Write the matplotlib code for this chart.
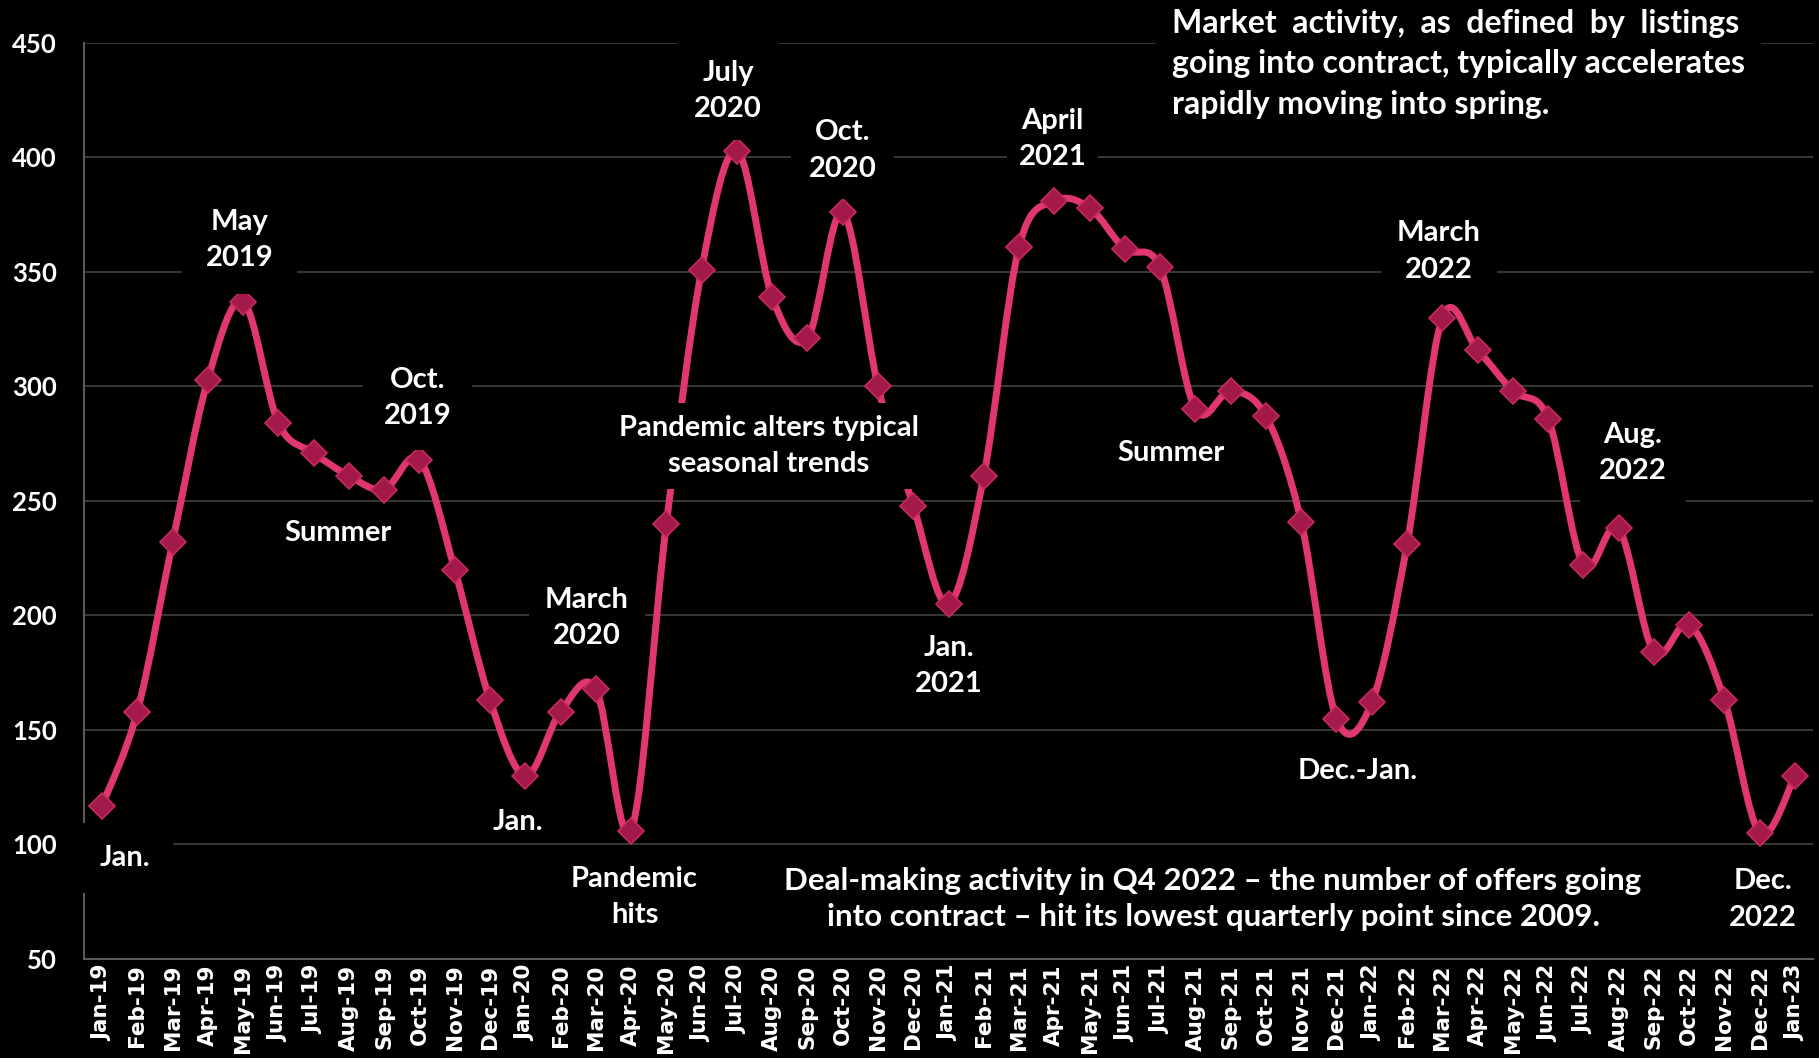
import matplotlib

matplotlib.use("Agg")
import matplotlib.pyplot as plt
import numpy as np
from matplotlib import font_manager
from matplotlib.path import Path
from matplotlib.patches import PathPatch

months = [
    "Jan-19", "Feb-19", "Mar-19", "Apr-19", "May-19", "Jun-19", "Jul-19", "Aug-19",
    "Sep-19", "Oct-19", "Nov-19", "Dec-19", "Jan-20", "Feb-20", "Mar-20", "Apr-20",
    "May-20", "Jun-20", "Jul-20", "Aug-20", "Sep-20", "Oct-20", "Nov-20", "Dec-20",
    "Jan-21", "Feb-21", "Mar-21", "Apr-21", "May-21", "Jun-21", "Jul-21", "Aug-21",
    "Sep-21", "Oct-21", "Nov-21", "Dec-21", "Jan-22", "Feb-22", "Mar-22", "Apr-22",
    "May-22", "Jun-22", "Jul-22", "Aug-22", "Sep-22", "Oct-22", "Nov-22", "Dec-22",
    "Jan-23",
]
contracts = [
    117, 158, 232, 303, 337, 284, 271, 261, 255, 268, 220, 163,
    130, 158, 168, 106, 240, 351, 403, 339, 321, 376, 300, 248,
    205, 261, 361, 381, 378, 360, 352, 290, 298, 287, 241, 155,
    162, 231, 330, 316, 298, 286, 222, 238, 184, 196, 163, 105,
    130,
]
y_ticks = [50, 100, 150, 200, 250, 300, 350, 400, 450]

callout_text = "Market activity, as defined by listings\ngoing into contract, typically accelerates\nrapidly moving into spring."
q4_text = ("Deal-making activity in Q4 2022 \u2013 the number of offers going\n"
           "into contract \u2013 hit its lowest quarterly point since 2009.")

LINE = "#E0386E"
MARKER = "#A3194B"
GRID = "#3c3c3c"
ANNOT = "Lato"

installed = {f.name for f in font_manager.fontManager.ttflist}
NARROW = "Liberation Sans Narrow" if "Liberation Sans Narrow" in installed else ANNOT


def smooth_path(xs, ys):
    # Excel-style smoothed line: cubic bezier through each point
    xs = np.asarray(xs, float)
    ys = np.asarray(ys, float)
    xp = np.r_[xs[0], xs, xs[-1]]
    yp = np.r_[ys[0], ys, ys[-1]]
    verts = [(xs[0], ys[0])]
    codes = [Path.MOVETO]
    for i in range(len(xs) - 1):
        c1 = (xs[i] + (xp[i + 2] - xp[i]) / 6, ys[i] + (yp[i + 2] - yp[i]) / 6)
        c2 = (xs[i + 1] - (xp[i + 3] - xp[i + 1]) / 6, ys[i + 1] - (yp[i + 3] - yp[i + 1]) / 6)
        verts += [c1, c2, (xs[i + 1], ys[i + 1])]
        codes += [Path.CURVE4] * 3
    return Path(verts, codes)


fig = plt.figure(figsize=(18.19, 10.58), dpi=100, facecolor="black")
ax = fig.add_axes([0.0464, 0.0936, 0.9501, 0.8658], facecolor="black")

x = np.arange(len(months))
ax.add_patch(PathPatch(smooth_path(x, contracts), fill=False, edgecolor=LINE, lw=5,
                       capstyle="round", joinstyle="round", zorder=3))
ax.plot(x, contracts, linestyle="none", marker="D", ms=13, mfc=MARKER, mec="#C82A5E",
        mew=1.2, zorder=4)

ax.set_xlim(-0.5, len(months) - 0.5)
ax.set_ylim(50, 450)
ax.set_yticks(y_ticks)
ax.set_xticks(x)
ax.set_xticklabels(months, rotation=90, fontsize=15.5, fontweight="bold",
                   family="DejaVu Sans", color="white")
ax.set_yticklabels([str(v) for v in y_ticks], fontsize=18.5, fontweight="bold",
                   family=ANNOT, color="white")
ax.tick_params(length=0)
ax.tick_params(axis="x", pad=4)
ax.tick_params(axis="y", pad=20)
ax.yaxis.grid(True, color=GRID, lw=1.3)
ax.set_axisbelow(True)
for side in ("top", "right"):
    ax.spines[side].set_visible(False)
for side in ("left", "bottom"):
    ax.spines[side].set_color("#5a5a5a")
    ax.spines[side].set_linewidth(1.5)

# (text, x in month index, y in data units, box pad)
notes = [
    ("Jan.", 0.66, 94, 0.75),
    ("May\n2019", 3.9, 364, 0.8),
    ("Summer", 6.7, 236, 0.3),
    ("Oct.\n2019", 8.95, 295, 0.7),
    ("Jan.", 11.8, 110, 0.3),
    ("March\n2020", 13.75, 199, 0.55),
    ("Pandemic\nhits", 15.1, 77, 0.3),
    ("July\n2020", 17.75, 429, 0.6),
    ("Oct.\n2020", 21.0, 403, 0.6),
    ("Pandemic alters typical\nseasonal trends", 18.9, 274, 0.4),
    ("Jan.\n2021", 24.0, 178, 0.4),
    ("April\n2021", 26.95, 408, 0.4),
    ("Summer", 30.3, 271, 0.3),
    ("Dec.-Jan.", 35.6, 132, 0.3),
    ("March\n2022", 37.9, 359, 0.55),
    ("Aug.\n2022", 43.4, 271, 0.65),
    ("Dec.\n2022", 47.1, 76, 0.3),
]
for text, tx, ty, pad in notes:
    ax.text(tx, ty, text, ha="center", va="center", ma="center", color="white",
            fontsize=21, fontweight="bold", family=ANNOT, linespacing=1.5, zorder=6,
            bbox=dict(boxstyle=f"square,pad={pad}", fc="black", ec="none"))

q4_size = 21 if NARROW != ANNOT else 22.5
ax.text(31.5, 76, q4_text, ha="center", va="center", ma="center", color="white",
        fontsize=q4_size, fontweight="bold", family=NARROW, linespacing=1.35, zorder=6,
        bbox=dict(boxstyle="square,pad=0.3", fc="black", ec="none"))

# justify the first line of the callout by widening its word gaps
CALLOUT_SIZE = 23
fig.canvas.draw()
renderer = fig.canvas.get_renderer()


def text_width(s):
    t = ax.text(0, 0, s, fontsize=CALLOUT_SIZE, fontweight="bold", family=ANNOT)
    w = t.get_window_extent(renderer).width
    t.remove()
    return w


lines = callout_text.split("\n")
space_w = text_width("a a") - text_width("aa")
words = lines[0].split(" ")
extra = text_width(lines[1]) - text_width(lines[0])
n_add = max(0, int(round(extra / space_w / (len(words) - 1))))
lines[0] = (" " * (1 + n_add)).join(words)
ax.text(30.33, 441, "\n".join(lines), ha="left", va="center", ma="left", color="white",
        fontsize=CALLOUT_SIZE, fontweight="bold", family=ANNOT, linespacing=1.48, zorder=6,
        clip_on=False, bbox=dict(boxstyle="square,pad=0.5", fc="black", ec="none"))

fig.savefig("out.png", dpi=100, facecolor="black")
